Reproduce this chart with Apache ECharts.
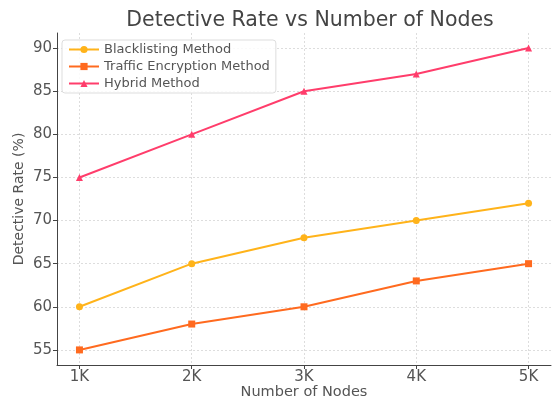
<!DOCTYPE html>
<html><head><meta charset="utf-8">
<script src="https://cdn.jsdelivr.net/npm/echarts@6/dist/echarts.min.js"></script>
<style>html,body{margin:0;padding:0;background:#fff}#c{width:552px;height:398px}</style>
</head><body><div id="c"></div>
<script>
const categories = ['1K','2K','3K','4K','5K'];
const xPos = [1,2,3,4,5];
const blacklisting = [60,65,68,70,72];
const trafficEnc = [55,58,60,63,65];
const hybrid = [75,80,85,87,90];
const yTicks = [55,60,65,70,75,80,85,90];

const pairs = v => v.map((y,i)=>[xPos[i], y]);
const chart = echarts.init(document.getElementById('c'), null, {renderer:'canvas'});
const font = 'DejaVu Sans';
chart.setOption({
  animation:false,
  title:{text:'Detective Rate vs Number of Nodes', left:305, top:5, textAlign:'center',
    textStyle:{fontFamily:font, fontSize:20.5, fontWeight:'normal', color:'#444'}},
  grid:{left:57, right:1, top:33, bottom:33, outerBoundsMode:'none', containLabel:false},
  legend:{left:62, top:40, orient:'vertical', itemGap:4, itemWidth:30, itemHeight:9,
    padding:[3,6,3,6], borderColor:'#ddd', borderWidth:1, borderRadius:3, backgroundColor:'rgba(255,255,255,0.85)',
    textStyle:{fontFamily:font, fontSize:13, color:'#555'},
    data:['Blacklisting Method','Traffic Encryption Method','Hybrid Method']},
  xAxis:{type:'value', min:0.8, max:5.2,
    name:'Number of Nodes', nameLocation:'middle', nameGap:20, nameMoveOverlap:false,
    nameTextStyle:{fontFamily:font, fontSize:14.5, color:'#555', verticalAlign:'top'},
    axisLine:{lineStyle:{color:'#444', width:1}},
    axisTick:{customValues:xPos, length:4, lineStyle:{color:'#444'}},
    axisLabel:{customValues:xPos, formatter:v=>categories[xPos.indexOf(Math.round(v))]||'', fontFamily:font, fontSize:15, color:'#555', margin:5},
    splitLine:{show:true, lineStyle:{type:[2,2], color:'#ddd', width:1}}},
  yAxis:{type:'value', min:53.25, max:91.75,
    name:'Detective Rate (%)', nameLocation:'middle', nameGap:31, nameMoveOverlap:false,
    nameTextStyle:{fontFamily:font, fontSize:14, color:'#555'},
    axisLine:{show:true, lineStyle:{color:'#444', width:1}},
    axisTick:{show:true, customValues:yTicks, length:4, lineStyle:{color:'#444'}},
    axisLabel:{customValues:yTicks, fontFamily:font, fontSize:15, color:'#555', margin:5},
    splitLine:{show:true, lineStyle:{type:[2,2], color:'#ddd', width:1}}},
  series:[
    {name:'Blacklisting Method', type:'line', data:pairs(blacklisting), symbol:'circle', symbolSize:7,
      itemStyle:{color:'#ffb31a'}, lineStyle:{width:2, color:'#ffb31a'}},
    {name:'Traffic Encryption Method', type:'line', data:pairs(trafficEnc), symbol:'rect', symbolSize:7,
      itemStyle:{color:'#ff6a1f'}, lineStyle:{width:2, color:'#ff6a1f'}},
    {name:'Hybrid Method', type:'line', data:pairs(hybrid), symbol:'triangle', symbolSize:7,
      itemStyle:{color:'#ff3d6b'}, lineStyle:{width:2, color:'#ff3d6b'}}
  ]
});
</script></body></html>
